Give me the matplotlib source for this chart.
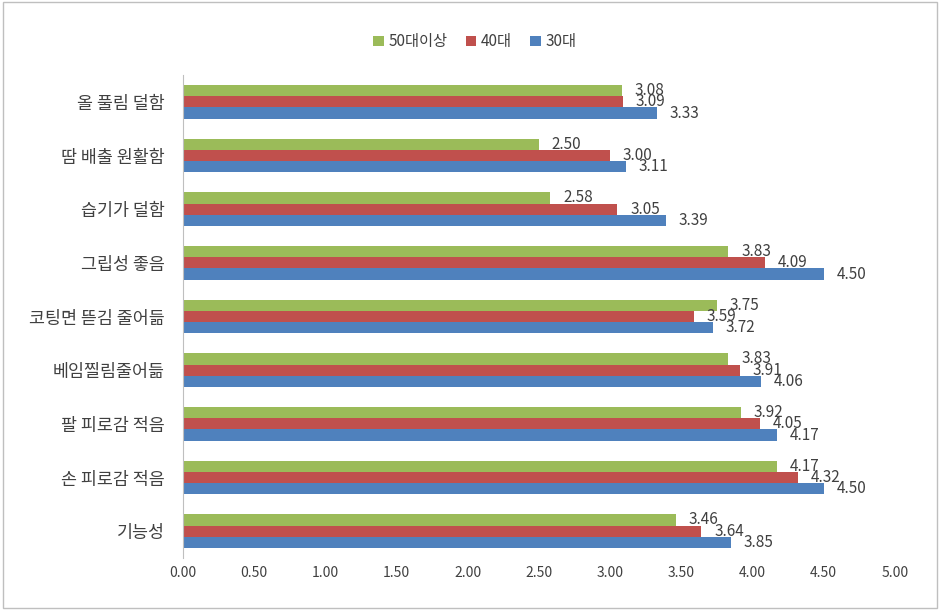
import matplotlib
matplotlib.use("Agg")
import matplotlib.pyplot as plt
import numpy as np
from matplotlib.patches import Rectangle

plt.rcParams["font.family"] = ["Noto Sans CJK KR", "DejaVu Sans"]

# === DATA ===
categories = ["올 풀림 덜함", "땀 배출 원활함", "습기가 덜함", "그립성 좋음",
              "코팅면 뜯김 줄어듦", "베임찔림줄어듦", "팔 피로감 적음",
              "손 피로감 적음", "기능성"]
age30 = [3.33, 3.11, 3.39, 4.50, 3.72, 4.06, 4.17, 4.50, 3.85]
age40 = [3.09, 3.00, 3.05, 4.09, 3.59, 3.91, 4.05, 4.32, 3.64]
age50 = [3.08, 2.50, 2.58, 3.83, 3.75, 3.83, 3.92, 4.17, 3.46]
series_names = ["50대이상", "40대", "30대"]
x_ticks = [0.0, 0.5, 1.0, 1.5, 2.0, 2.5, 3.0, 3.5, 4.0, 4.5, 5.0]

# === STYLE ===
COLORS = {"50대이상": "#9BBB59", "40대": "#C0504D", "30대": "#4F81BD"}
TEXT = "#404040"
BAR_H = 0.21

fig = plt.figure(figsize=(9.4, 6.1), dpi=100)
ax = fig.add_axes([0.1947, 0.0852, 0.7573, 0.7918])

y = np.arange(len(categories))  # 0 at top after invert
offsets = {"50대이상": -BAR_H, "40대": 0.0, "30대": BAR_H}
values = {"50대이상": age50, "40대": age40, "30대": age30}

for name in series_names:
    pos = y + offsets[name]
    ax.barh(pos, values[name], height=BAR_H, color=COLORS[name], label=name)
    for yy, v in zip(pos, values[name]):
        ax.text(v + 0.09, yy, f"{v:.2f}", va="center", ha="left",
                fontsize=11, color=TEXT)

ax.set_ylim(len(categories) - 0.5, -0.5)
ax.set_xlim(0, 5)
ax.set_xticks(x_ticks)
ax.set_xticklabels([f"{t:.2f}" for t in x_ticks], fontsize=10, color=TEXT)
ax.set_yticks(y)
ax.set_yticklabels(categories, fontsize=12.5, color=TEXT)
ax.tick_params(axis="y", length=0, pad=13)
ax.tick_params(axis="x", length=0, pad=6)
for s in ["top", "right", "bottom"]:
    ax.spines[s].set_visible(False)
ax.spines["left"].set_color("#BFBFBF")

leg = fig.legend(loc="upper center", bbox_to_anchor=(0.505, 0.968), ncol=3,
                 frameon=False, fontsize=11, handlelength=0.7, handleheight=0.7,
                 handletextpad=0.3, columnspacing=1.2, labelcolor=TEXT)

fig.patches.append(Rectangle((0.003, 0.003), 0.994, 0.994, transform=fig.transFigure,
                             fill=False, edgecolor="#BFBFBF", linewidth=1))

fig.savefig("out.png", dpi=100, facecolor="white")
